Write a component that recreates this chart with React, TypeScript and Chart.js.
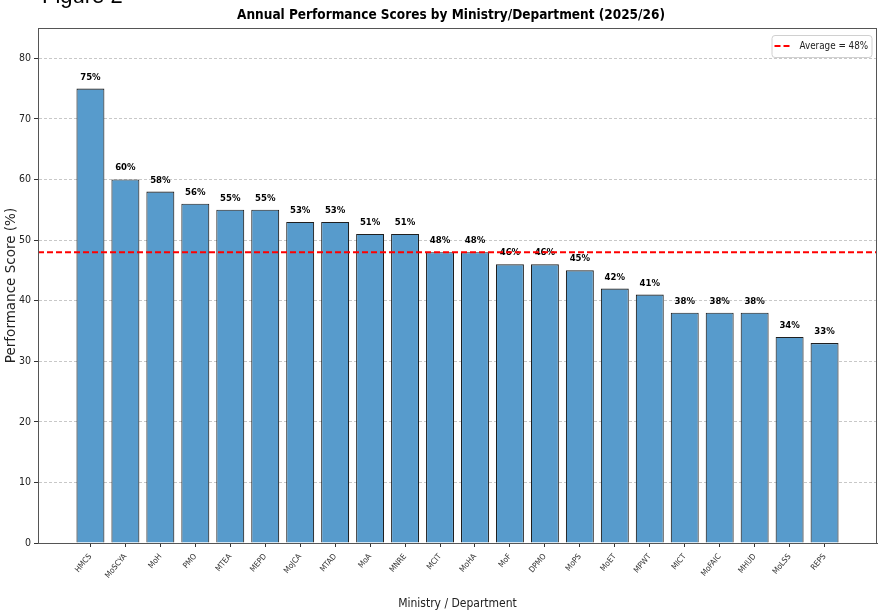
import React, { useEffect, useRef } from "react";
import { Chart, registerables } from "chart.js";

Chart.register(...registerables);

const categories = ["HMCS", "MoSCYA", "MoH", "PMO", "MTEA", "MEPD", "MoJCA", "MTAD", "MoA", "MNRE", "MCIT", "MoHA", "MoF", "DPMO", "MoPS", "MoET", "MPWT", "MICT", "MoFAIC", "MHUD", "MoLSS", "REPS"];
const scores = [75, 60, 58, 56, 55, 55, 53, 53, 51, 51, 48, 48, 46, 46, 45, 42, 41, 38, 38, 38, 34, 33];
const averageValue = 48;
const yTicks = [0, 10, 20, 30, 40, 50, 60, 70, 80];
const titleText = "Annual Performance Scores by Ministry/Department (2025/26)";
const legendText = "Average = 48%";

const COND = "'DejaVu Sans Condensed', 'Liberation Sans Narrow', 'DejaVu Sans', sans-serif";
const SANS = "'DejaVu Sans', sans-serif";

const extrasPlugin = {
  id: "extras",
  afterDatasetsDraw(chart: any) {
    const { ctx, chartArea, scales } = chart;
    const y = scales.y;
    const meta = chart.getDatasetMeta(0);
    ctx.save();
    // value labels
    ctx.fillStyle = "#000";
    ctx.font = `bold 9.5px ${COND}`;
    ctx.textAlign = "center";
    ctx.textBaseline = "alphabetic";
    meta.data.forEach((bar: any, i: number) => {
      ctx.fillText(`${scores[i]}%`, bar.x, bar.y - 9);
    });
    // average line
    const ay = y.getPixelForValue(averageValue);
    ctx.strokeStyle = "#ff0000";
    ctx.lineWidth = 2;
    ctx.setLineDash([6, 3]);
    ctx.beginPath();
    ctx.moveTo(chartArea.left, ay);
    ctx.lineTo(chartArea.right, ay);
    ctx.stroke();
    ctx.setLineDash([]);
    // frame
    ctx.strokeStyle = "#555";
    ctx.lineWidth = 1;
    ctx.strokeRect(chartArea.left + 0.5, chartArea.top + 0.5, chartArea.right - chartArea.left - 1, chartArea.bottom - chartArea.top);
    // legend
    const bw = 100;
    const bh = 22;
    const bx = chartArea.right - 5.5 - bw;
    const by = chartArea.top + 7;
    ctx.fillStyle = "rgba(255,255,255,0.85)";
    ctx.strokeStyle = "#d0d0d0";
    ctx.lineWidth = 1;
    ctx.beginPath();
    (ctx as any).roundRect(bx + 0.5, by + 0.5, bw, bh, 3);
    ctx.fill();
    ctx.stroke();
    ctx.strokeStyle = "#ff0000";
    ctx.lineWidth = 2;
    ctx.setLineDash([6, 3]);
    ctx.beginPath();
    ctx.moveTo(bx + 3, by + bh / 2);
    ctx.lineTo(bx + 20, by + bh / 2);
    ctx.stroke();
    ctx.setLineDash([]);
    ctx.fillStyle = "#222";
    ctx.textAlign = "left";
    ctx.textBaseline = "middle";
    ctx.font = `9.8px ${COND}`;
    ctx.fillText(legendText, bx + 28, by + bh / 2);
    // title
    ctx.fillStyle = "#000";
    ctx.font = `bold 13.5px ${COND}`;
    ctx.textAlign = "center";
    ctx.textBaseline = "middle";
    ctx.fillText(titleText, 451, 15);
    ctx.restore();
  },
};

export default function App() {
  const ref = useRef<HTMLCanvasElement | null>(null);
  useEffect(() => {
    document.body.style.margin = "0";
    if (!ref.current) return;
    const chart = new Chart(ref.current, {
      type: "bar",
      data: {
        datasets: [
          {
            data: scores.map((v, i) => ({ x: i, y: v })),
            backgroundColor: "#579bcc",
            borderColor: "#1f1f1f",
            borderWidth: 1.1,
            barPercentage: 0.8,
            categoryPercentage: 1,
          },
        ],
      },
      options: {
        animation: false,
        responsive: false,
        devicePixelRatio: 1,
        layout: { padding: { top: 28, right: 4, left: 0, bottom: 4 } },
        plugins: { legend: { display: false }, tooltip: { enabled: false }, title: { display: false } },
        scales: {
          x: {
            type: "linear",
            min: -1.5,
            max: 22.5,
            offset: false,
            afterBuildTicks: (s: any) => { s.ticks = categories.map((_, i) => ({ value: i })); },
            grid: { display: true, offset: false, drawOnChartArea: false, drawTicks: true, tickLength: 4, tickColor: "#333" },
            border: { display: true, color: "#555" },
            ticks: {
              minRotation: 50,
              maxRotation: 50,
              autoSkip: false,
              padding: 5,
              color: "#333",
              font: { size: 8, family: COND },
              callback: (v: any) => categories[v] ?? "",
            },
            title: { display: true, text: "Ministry / Department", color: "#222", font: { size: 12, family: COND }, padding: { top: 2, bottom: 0 } },
            afterFit: (s: any) => { s.height = 68; },
          },
          y: {
            min: 0,
            max: 85,
            afterBuildTicks: (s: any) => { s.ticks = yTicks.map((v) => ({ value: v })); },
            grid: { color: "#c8c8c8", tickColor: "#333", tickLength: 4, tickBorderDash: [], drawTicks: true },
            border: { display: true, color: "#555", dash: [3, 2] },
            ticks: { color: "#222", padding: 3, font: { size: 10.5, family: COND } },
            title: { display: true, text: "Performance Score (%)", color: "#222", font: { size: 13.5, family: SANS }, padding: { bottom: 0, top: 3 } },
            afterFit: (s: any) => { s.width = 38; },
          },
        },
      },
      plugins: [extrasPlugin],
    } as any);
    return () => chart.destroy();
  }, []);
  return (
    <div style={{ position: "relative", width: 881, height: 615, background: "#fff", overflow: "hidden" }}>
      <div style={{ position: "absolute", left: 42, top: -17, fontFamily: "'Liberation Sans', Arial, sans-serif", fontSize: 22, color: "#000" }}>Figure 2</div>
      <canvas ref={ref} width={881} height={615} style={{ display: "block" }} />
    </div>
  );
}
